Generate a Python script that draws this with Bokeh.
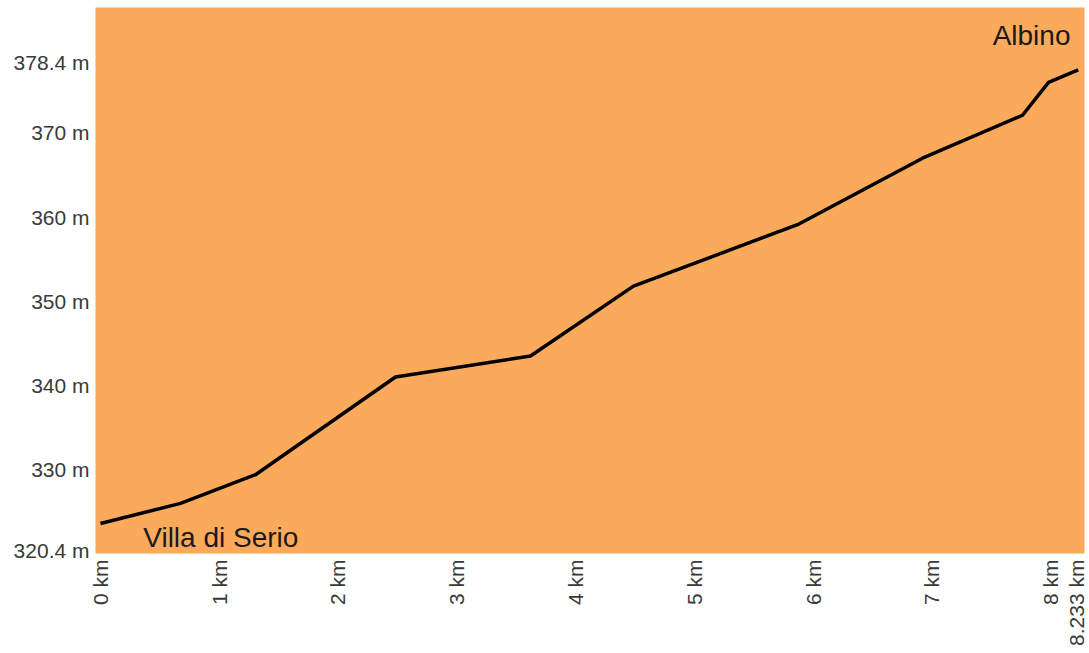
import math
from bokeh.plotting import figure
from bokeh.models import Range1d, FixedTicker, CustomJSTickFormatter, Label
from bokeh.embed import file_html
from bokeh.resources import INLINE

# data
distance_km = [0.0, 0.674, 1.305, 2.484, 3.621, 4.488, 5.869, 6.922, 7.764, 7.983, 8.233]
elevation_m = [323.6, 326.0, 329.4, 341.0, 343.5, 351.8, 359.1, 367.0, 372.1, 376.0, 377.5]

x_ticks = [0, 1, 2, 3, 4, 5, 6, 7, 8, 8.233]
x_tick_labels = ["0 km", "1 km", "2 km", "3 km", "4 km", "5 km", "6 km", "7 km", "8 km", "8.233 km"]
y_ticks = [320.4, 330, 340, 350, 360, 370, 378.4]
y_tick_labels = ["320.4 m", "330 m", "340 m", "350 m", "360 m", "370 m", "378.4 m"]

start_name = "Villa di Serio"
end_name = "Albino"

FONT = "Liberation Sans"

p = figure(width=1087, height=648, output_backend="svg", toolbar_location=None,
           x_range=Range1d(-0.042, 8.286), y_range=Range1d(320.04, 384.9),
           min_border_left=95, min_border_right=3, min_border_top=7, min_border_bottom=93)
p.background_fill_color = "#FBA95A"
p.border_fill_color = "white"
p.outline_line_color = None
p.xgrid.visible = False
p.ygrid.visible = False

fmt_code = """
for (let i = 0; i < tv.length; i++) {
  if (Math.abs(tv[i] - tick) < 1e-6) { return tl[i]; }
}
return '';
"""

p.xaxis.ticker = FixedTicker(ticks=x_ticks)
p.xaxis.formatter = CustomJSTickFormatter(args=dict(tv=x_ticks, tl=x_tick_labels), code=fmt_code)
p.yaxis.ticker = FixedTicker(ticks=y_ticks)
p.yaxis.formatter = CustomJSTickFormatter(args=dict(tv=y_ticks, tl=y_tick_labels), code=fmt_code)
p.xaxis.major_label_orientation = math.pi / 2

for ax in (p.xaxis, p.yaxis):
    ax.axis_line_color = None
    ax.major_tick_line_color = None
    ax.minor_tick_line_color = None
    ax.major_tick_out = 0
    ax.major_tick_in = 0
    ax.major_label_text_font = FONT
    ax.major_label_text_font_size = "21px"
    ax.major_label_text_color = "#3a3a3a"
    ax.major_label_standoff = 6

p.line(distance_km, elevation_m, line_color="black", line_width=3.5, line_join="round")

p.add_layout(Label(x=0.36, y=321.9, text=start_name, text_font=FONT, text_font_size="28px",
                   text_color="#1a1a1a", text_align="left", text_baseline="alphabetic"))
p.add_layout(Label(x=8.168, y=381.6, text=end_name, text_font=FONT, text_font_size="28px",
                   text_color="#1a1a1a", text_align="right", text_baseline="alphabetic"))

open("out.html", "w").write(file_html(p, INLINE))
